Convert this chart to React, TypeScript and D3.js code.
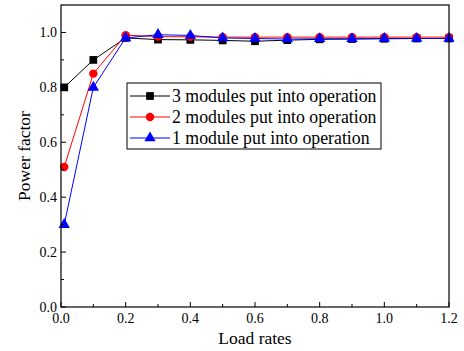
import React from 'react';
import { scaleLinear, line, symbol, symbolSquare, symbolCircle, symbolTriangle, range } from 'd3';

const loadRates = [0.01, 0.1, 0.2, 0.3, 0.4, 0.5, 0.6, 0.7, 0.8, 0.9, 1.0, 1.1, 1.2];
const threeModules = [0.8, 0.9, 0.98, 0.974, 0.973, 0.971, 0.968, 0.972, 0.975, 0.976, 0.977, 0.978, 0.978];
const twoModules = [0.51, 0.85, 0.99, 0.985, 0.984, 0.983, 0.983, 0.983, 0.983, 0.983, 0.983, 0.983, 0.983];
const oneModule = [0.3, 0.8, 0.98, 0.992, 0.989, 0.98, 0.978, 0.976, 0.977, 0.977, 0.978, 0.978, 0.978];
const xTicks = [0, 0.2, 0.4, 0.6, 0.8, 1.0, 1.2];
const yTicks = [0, 0.2, 0.4, 0.6, 0.8, 1.0];

const series = [
  { name: '3 modules put into operation', values: threeModules, color: '#000000', shape: symbolSquare, size: 60 },
  { name: '2 modules put into operation', values: twoModules, color: '#ff0000', shape: symbolCircle, size: 56 },
  { name: '1 module put into operation', values: oneModule, color: '#0000ff', shape: symbolTriangle, size: 56 },
];

export default function App() {
  const W = 464, H = 351;
  const left = 61, right = 449, top = 5, bottom = 307;
  const x = scaleLinear().domain([0, 1.2]).range([left, right]);
  const y = scaleLinear().domain([0, 1.1]).range([bottom, top]);
  const font = "'Liberation Serif', 'Times New Roman', serif";

  const minorX = range(0.1, 1.2, 0.2);
  const minorY = range(0.1, 1.1, 0.2);

  return (
    <svg width={W} height={H} style={{ position: 'absolute', left: 0, top: 0, background: '#fff', fontFamily: font }}>
      {/* series lines */}
      {series.map(s => {
        const path = line<number>().x((_, i) => x(loadRates[i])).y(d => y(d))(s.values) || '';
        return <path key={s.name} d={path} fill="none" stroke={s.color} strokeWidth={1} />;
      })}
      {series.map(s =>
        s.values.map((v, i) => (
          <path key={s.name + i} d={symbol(s.shape, s.size)() || ''}
            transform={`translate(${x(loadRates[i])},${y(v)})`} fill={s.color} />
        ))
      )}

      {/* frame */}
      <rect x={left} y={top} width={right - left} height={bottom - top} fill="none" stroke="#000" strokeWidth={1.2} />

      {/* x ticks */}
      {xTicks.map(t => (
        <g key={'x' + t}>
          <line x1={x(t)} x2={x(t)} y1={bottom} y2={bottom - 5} stroke="#000" />
          <text x={x(t)} y={bottom + 16} fontSize={14} textAnchor="middle">{t.toFixed(1)}</text>
        </g>
      ))}
      {minorX.map(t => (
        <line key={'mx' + t} x1={x(t)} x2={x(t)} y1={bottom} y2={bottom - 3} stroke="#000" />
      ))}

      {/* y ticks */}
      {yTicks.map(t => (
        <g key={'y' + t}>
          <line x1={left} x2={left + 5} y1={y(t)} y2={y(t)} stroke="#000" />
          <text x={left - 4} y={y(t) + 5} fontSize={14} textAnchor="end">{t.toFixed(1)}</text>
        </g>
      ))}
      {minorY.map(t => (
        <line key={'my' + t} x1={left} x2={left + 3} y1={y(t)} y2={y(t)} stroke="#000" />
      ))}

      {/* axis titles */}
      <text x={(left + right) / 2} y={344} fontSize={17.5} textAnchor="middle">Load rates</text>
      <text transform={`translate(30,${(top + bottom) / 2}) rotate(-90)`} fontSize={17.5} textAnchor="middle">Power factor</text>

      {/* legend */}
      <rect x={127} y={83} width={254} height={66} fill="#fff" stroke="#000" strokeWidth={1} />
      {series.map((s, i) => {
        const ly = 96 + i * 21;
        return (
          <g key={'lg' + s.name}>
            <line x1={130} x2={170} y1={ly} y2={ly} stroke={s.color} strokeWidth={1} />
            <path d={symbol(s.shape, s.size)() || ''} transform={`translate(150,${ly})`} fill={s.color} />
            <text x={172} y={ly + 5.5} fontSize={17.8}>{s.name}</text>
          </g>
        );
      })}
    </svg>
  );
}
